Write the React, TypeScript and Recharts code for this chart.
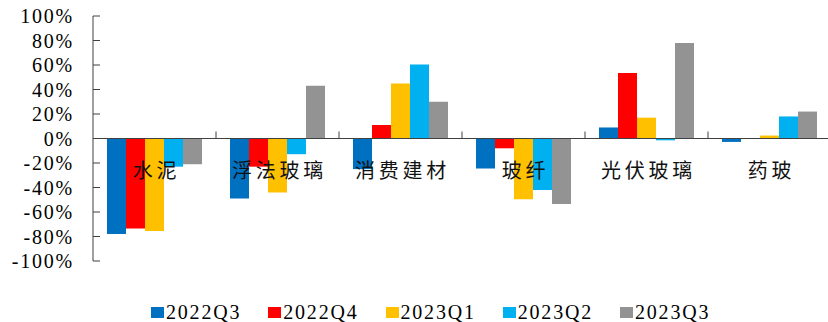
import React from 'react';
import { BarChart, Bar, XAxis, YAxis, ReferenceLine, Legend } from 'recharts';

// 板块业绩同比增速（按季度）
const categories = ['水泥', '浮法玻璃', '消费建材', '玻纤', '光伏玻璃', '药玻'];
const q3_2022 = [-0.78, -0.49, -0.25, -0.245, 0.09, -0.028];
const q4_2022 = [-0.735, -0.23, 0.11, -0.08, 0.535, 0];
const q1_2023 = [-0.755, -0.44, 0.45, -0.495, 0.17, 0.024];
const q2_2023 = [-0.23, -0.128, 0.605, -0.42, -0.015, 0.18];
const q3_2023 = [-0.21, 0.43, 0.3, -0.535, 0.78, 0.22];
const seriesNames = ['2022Q3', '2022Q4', '2023Q1', '2023Q2', '2023Q3'];
const seriesColors = ['#0070C0', '#FF0000', '#FFC000', '#00B0F0', '#939393'];
const yTicks = [-1, -0.8, -0.6, -0.4, -0.2, 0, 0.2, 0.4, 0.6, 0.8, 1];

const seriesValues = [q3_2022, q4_2022, q1_2023, q2_2023, q3_2023];
const data = categories.map((name, i) => {
  const row: Record<string, string | number> = { name };
  seriesNames.forEach((s, k) => {
    row[s] = seriesValues[k][i];
  });
  return row;
});

const W = 828;
const H = 322;
const MARGIN = { top: 16, right: -3, bottom: 0, left: 0 };
const Y_AXIS_W = 93;
const PLOT_H = 245;
const PLOT_W = W - MARGIN.left - MARGIN.right - Y_AXIS_W;
const Y_MIN = -1;
const Y_MAX = 1;
const AXIS_COLOR = '#404040';
const SERIF = '"Liberation Serif", "Times New Roman", serif';
const CJK = '"Noto Sans CJK SC", sans-serif';

const YTick = (props: any) => {
  const { x, y, payload } = props;
  return (
    <g>
      <line x1={x} x2={x + 7} y1={y} y2={y} stroke={AXIS_COLOR} strokeWidth={1} />
      <text
        x={x - 19}
        y={y}
        textAnchor="end"
        dominantBaseline="central"
        fontFamily={SERIF}
        fontSize={20}
        letterSpacing={1.8}
        fill="#000"
      >
        {`${Math.round(payload.value * 100)}%`}
      </text>
    </g>
  );
};

const XTick = (props: any) => {
  const { x, y, payload, index } = props;
  const zeroY = y - (PLOT_H * (0 - Y_MIN)) / (Y_MAX - Y_MIN);
  const band = PLOT_W / categories.length;
  const left = x - band / 2;
  return (
    <g>
      {index > 0 && (
        <line x1={left} x2={left} y1={zeroY} y2={zeroY - 7} stroke={AXIS_COLOR} strokeWidth={1} />
      )}
      <text
        x={x + 2}
        y={zeroY + 31}
        textAnchor="middle"
        dominantBaseline="central"
        fontFamily={CJK}
        fontSize={20}
        letterSpacing={3.8}
        fill="#111"
      >
        {payload.value}
      </text>
    </g>
  );
};

const LegendContent = () => (
  <div
    style={{
      display: 'flex',
      alignItems: 'center',
      height: 20,
      paddingLeft: 151,
      gap: 27,
      fontFamily: SERIF,
      fontSize: 20,
      letterSpacing: 1.8,
      color: '#000',
    }}
  >
    {seriesNames.map((s, k) => (
      <div key={s} style={{ display: 'flex', alignItems: 'center' }}>
        <span
          style={{
            display: 'inline-block',
            width: 13,
            height: 11,
            background: seriesColors[k],
            marginRight: 2,
          }}
        />
        <span style={{ lineHeight: '20px' }}>{s}</span>
      </div>
    ))}
  </div>
);

export default function App() {
  return (
    <div style={{ position: 'absolute', left: 0, top: 0, width: W, height: H, background: '#fff' }}>
      <BarChart
        width={W}
        height={H}
        data={data}
        margin={MARGIN}
        barCategoryGap={14}
        barGap={0}
      >
        <YAxis
          width={Y_AXIS_W}
          domain={[Y_MIN, Y_MAX]}
          ticks={yTicks}
          interval={0}
          tickSize={0}
          tickMargin={0}
          tickLine={false}
          axisLine={{ stroke: AXIS_COLOR, strokeWidth: 1 }}
          tick={<YTick />}
          allowDataOverflow
        />
        <XAxis
          dataKey="name"
          height={41}
          tickSize={0}
          tickMargin={0}
          axisLine={false}
          tickLine={false}
          interval={0}
          tick={<XTick />}
        />
        {seriesNames.map((s, k) => (
          <Bar key={s} dataKey={s} fill={seriesColors[k]} isAnimationActive={false} />
        ))}
        <ReferenceLine y={0} stroke={AXIS_COLOR} strokeWidth={1} />
        <Legend verticalAlign="bottom" content={<LegendContent />} />
      </BarChart>
    </div>
  );
}
